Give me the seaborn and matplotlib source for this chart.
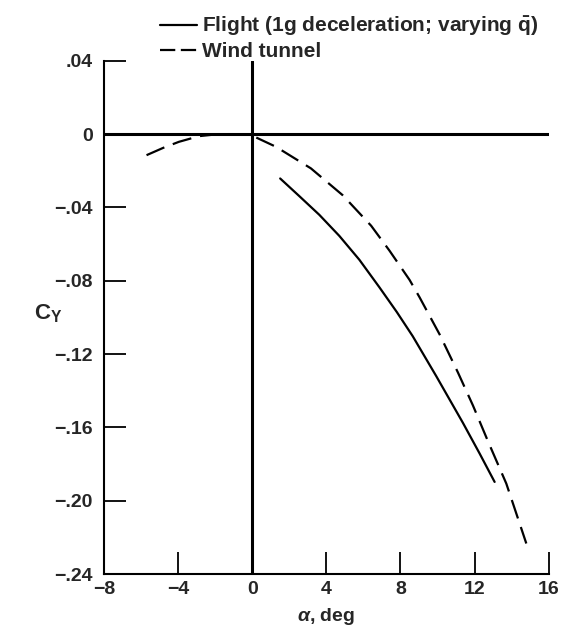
import pandas as pd
import matplotlib
matplotlib.use('Agg')
import matplotlib.pyplot as plt
import seaborn as sns

# values
flight_alpha = [1.51, 2.54, 3.62, 4.70, 5.78, 6.86, 7.8, 8.66, 9.93, 11.37, 12.27, 13.08]
flight_cy = [-0.0242, -0.0338, -0.0440, -0.0555, -0.0685, -0.0835, -0.0970, -0.1102,
             -0.1320, -0.1575, -0.1742, -0.1897]

tunnel_alpha = [-5.7, -4.8, -3.95, -2.86, -1.8, -1.08, -0.07, 1.28, 3.17, 4.88, 6.42,
                7.41, 8.49, 9.03, 10.11, 11.10, 11.91, 12.72, 13.71, 14.16, 14.79]
tunnel_cy = [-0.0115, -0.0075, -0.0042, -0.0011, 0.0, 0.0, -0.0005, -0.0069, -0.0187,
             -0.0333, -0.0500, -0.0636, -0.0795, -0.0890, -0.1092, -0.1300, -0.1480,
             -0.1675, -0.1906, -0.2042, -0.2233]

x_ticks = [-8, -4, 0, 4, 8, 12, 16]
x_labels = ["\u22128", "\u22124", "0", "4", "8", "12", "16"]
y_ticks = [0.04, 0, -0.04, -0.08, -0.12, -0.16, -0.20, -0.24]
y_labels = [".04", "0", "\u2212.04", "\u2212.08", "\u2212.12", "\u2212.16", "\u2212.20", "\u2212.24"]

sns.set_style("ticks")
plt.rcParams['font.family'] = ['Liberation Sans', 'DejaVu Sans']
plt.rcParams['font.weight'] = 'bold'
plt.rcParams['mathtext.fontset'] = 'custom'
plt.rcParams['mathtext.rm'] = 'Liberation Sans:bold'
plt.rcParams['mathtext.bf'] = 'Liberation Sans:bold'
plt.rcParams['mathtext.it'] = 'Liberation Sans:italic'
plt.rcParams['lines.scale_dashes'] = False

fig = plt.figure(figsize=(5.74, 6.33), dpi=100)
ax = fig.add_axes([0.181, 0.093, 0.775, 0.811])

flight = pd.DataFrame({"alpha": flight_alpha, "cy": flight_cy})
tunnel = pd.DataFrame({"alpha": tunnel_alpha, "cy": tunnel_cy})

ax.axhline(0, color="black", lw=2.2, zorder=1)
ax.axvline(0, color="black", lw=2.2, zorder=1)

sns.lineplot(data=flight, x="alpha", y="cy", color="black", lw=1.6,
             label=r"Flight (1g deceleration; varying $\bar{\mathbf{q}}$)", ax=ax)
sns.lineplot(data=tunnel, x="alpha", y="cy", color="black", lw=1.6,
             linestyle=(0, (14, 6.5)), label="Wind tunnel", ax=ax)

ax.set_xlim(-8, 16)
ax.set_ylim(-0.24, 0.04)
ax.set_xticks(x_ticks, x_labels)
ax.set_yticks(y_ticks, y_labels)
ax.tick_params(direction="in", length=16, width=1.3, labelsize=14, color="black")
ax.tick_params(axis="y", pad=8)
ax.tick_params(axis="x", pad=5)
for t in ax.get_xticklabels() + ax.get_yticklabels():
    t.set_fontweight("bold")

for s in ["top", "right"]:
    ax.spines[s].set_visible(False)
for s in ["left", "bottom"]:
    ax.spines[s].set_linewidth(1.5)
    ax.spines[s].set_color("black")

ax.set_xlabel(r"$\mathit{\alpha}$, deg", fontsize=14, fontweight="bold", labelpad=6)
ax.set_ylabel(r"$\mathregular{C_Y}$", fontsize=16, fontweight="bold", rotation=0)
ax.yaxis.set_label_coords(-0.125, 0.485)

leg = ax.legend(loc="upper left", bbox_to_anchor=(0.279, 0.977), bbox_transform=fig.transFigure,
                frameon=False, fontsize=15, handlelength=1.75, handletextpad=0.25,
                borderpad=0, borderaxespad=0, labelspacing=0.2)
leg.get_lines()[1].set_linestyle((0, (11, 4)))

fig.savefig("out.png", dpi=100)
